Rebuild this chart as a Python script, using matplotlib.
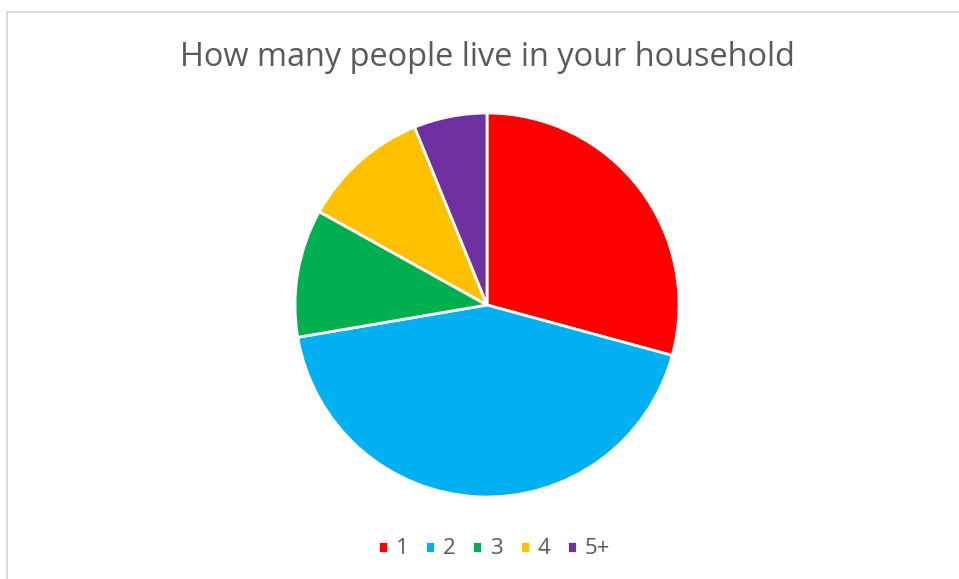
import matplotlib.pyplot as plt
from matplotlib.patches import Rectangle

labels = ["1", "2", "3", "4", "5+"]
counts = [19, 28, 7, 7, 4]
colors = ["#FF0000", "#00B0F0", "#00B050", "#FFC000", "#7030A0"]
title = "How many people live in your household"

W, H = 959, 579
fig = plt.figure(figsize=(W / 100, H / 100), dpi=100)
plt.rcParams['font.family'] = ['Open Sans', 'DejaVu Sans']

# border of the chart area
fig.patches.append(Rectangle((7 / W, -0.1), 1.2, 1 - 12 / H + 0.1, transform=fig.transFigure,
                             fill=False, edgecolor="#D9D9D9", linewidth=1.3))

# pie axes
cx, cy, r = 487, 305, 192
ax = fig.add_axes([(cx - r) / W, 1 - (cy + r) / H, 2 * r / W, 2 * r / H])
wedges, _ = ax.pie(counts, colors=colors, startangle=90, counterclock=False, radius=1,
                   wedgeprops=dict(edgecolor="white", linewidth=2))
ax.set_xlim(-1, 1)
ax.set_ylim(-1, 1)
ax.set_aspect("equal")
ax.axis("off")

fig.text(487 / W, 1 - 57 / H, title, ha="center", va="center", fontsize=23.4, color="#595959")

leg = fig.legend(wedges, labels, loc="center", bbox_to_anchor=(494 / W, 1 - 549 / H), ncol=5,
                 frameon=False, fontsize=16, labelcolor="#595959", handlelength=0.45, handleheight=0.45,
                 handletextpad=0.35, columnspacing=0.75)

fig.savefig("out.png", dpi=100)
